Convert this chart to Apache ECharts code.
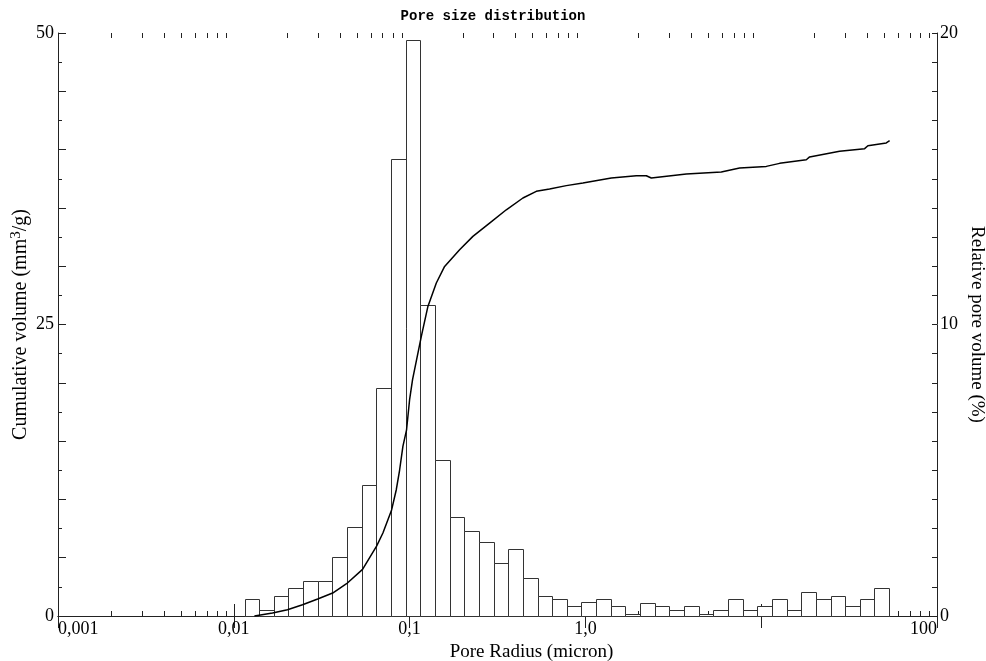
<!DOCTYPE html>
<html>
<head>
<meta charset="utf-8">
<script src="https://cdn.jsdelivr.net/npm/echarts@6/dist/echarts.min.js"></script>
<style>
html,body{margin:0;padding:0;background:#fff;}
#chart{width:986px;height:661px;}
</style>
</head>
<body>
<div id="chart"></div>
<script>
// ---- data ----
const titleText = 'Pore size distribution';
const xAxisName = 'Pore Radius (micron)';
const leftAxisName = ['Cumulative volume (mm', '3', '/g)'];
const rightAxisName = 'Relative pore volume (%)';

// x tick values and labels (log axis)
const xTickValues = [0.001, 0.01, 0.1, 1, 10, 100];
const xTickLabels = ['0,001', '0,01', '0,1', '1,0', '', '100'];
const leftTickLabels = [0, 25, 50];
const rightTickLabels = [0, 10, 20];
const minorDecades = [0.001, 0.01, 0.1, 1, 10];
const minorFactors = [2, 3, 4, 5, 6, 7, 8, 9];

// histogram: log-spaced bins, 12 per decade, starting at binFirstEdge (micron)
const binFirstEdge = 0.01151;
const binsPerDecade = 12;
const relVolume = [
  0.58, 0.22, 0.70, 0.96, 1.20, 1.20, 2.03, 3.05, 4.50, 7.81, 15.69, 19.77,
  10.68, 5.36, 3.40, 2.93, 2.55, 1.82, 2.31, 1.31, 0.70, 0.58, 0.34, 0.47,
  0.58, 0.34, 0.08, 0.46, 0.34, 0.19, 0.34, 0.08, 0.19, 0.58, 0.19, 0.34,
  0.58, 0.19, 0.81, 0.58, 0.70, 0.34, 0.58, 0.96
];

// cumulative curve
const curveRadius = [
  0.0131, 0.0166, 0.0202, 0.0246, 0.0300, 0.0365, 0.0438, 0.0540, 0.0649, 0.0705,
  0.0790, 0.0840, 0.0877, 0.0916, 0.0961, 0.1000, 0.1040, 0.1166, 0.1271, 0.1419,
  0.1582, 0.1925, 0.2291, 0.2851, 0.3549, 0.4411, 0.5256, 0.6256, 0.7788, 0.9678,
  1.404, 1.948, 2.220, 2.371, 3.749, 5.929, 7.538, 10.69, 12.73, 18.05,
  18.85, 27.92, 38.75, 40.45, 51.48, 53.76
];
const curveVolume = [
  0.0, 0.26, 0.54, 0.97, 1.46, 1.97, 2.77, 4.0, 5.99, 7.12,
  9.1, 10.83, 12.5, 14.55, 15.97, 18.55, 20.3, 23.98, 26.55, 28.56,
  29.98, 31.41, 32.56, 33.7, 34.84, 35.85, 36.42, 36.62, 36.91, 37.14,
  37.56, 37.76, 37.76, 37.56, 37.91, 38.08, 38.42, 38.56, 38.82, 39.13,
  39.37, 39.85, 40.08, 40.33, 40.57, 40.76
];

// ---- build ----
const barData = relVolume.map(function (v, k) {
  const lo = binFirstEdge * Math.pow(10, k / binsPerDecade);
  const hi = binFirstEdge * Math.pow(10, (k + 1) / binsPerDecade);
  return [lo, hi, v];
});
const curveData = curveRadius.map(function (r, i) { return [r, curveVolume[i]]; });
const minorTicks = [];
minorDecades.forEach(function (d) { minorFactors.forEach(function (f) { minorTicks.push([d * f]); }); });

const serif = 'Liberation Serif';
const ink = '#222';

const chart = echarts.init(document.getElementById('chart'), null, {renderer: 'canvas'});
chart.setOption({
  backgroundColor: '#fff',
  animation: false,
  title: {
    text: titleText, left: 'center', top: 4,
    textStyle: {fontFamily: 'Liberation Mono', fontWeight: 'bold', fontSize: 14, color: '#000'}
  },
  grid: {left: 58, right: 49, top: 33, bottom: 45, containLabel: false, outerBoundsMode: 'none'},
  xAxis: [{
    type: 'log', logBase: 10, min: 0.001, max: 100, position: 'bottom',
    name: xAxisName, nameLocation: 'middle', nameGap: 23,
    nameTextStyle: {fontFamily: serif, fontSize: 19, color: '#000', padding: [0, 0, 0, 68]},
    axisLine: {show: true, lineStyle: {color: ink, width: 1}},
    axisTick: {show: true, inside: true, length: 12, lineStyle: {color: ink}},
    minorTick: {show: false},
    splitLine: {show: false},
    axisLabel: {
      show: true, margin: 4, fontFamily: serif, fontSize: 18, color: '#000',
      alignMinLabel: 'left', alignMaxLabel: 'right',
      formatter: function (v) {
        for (let i = 0; i < xTickValues.length; i++) {
          if (Math.abs(Math.log10(v) - Math.log10(xTickValues[i])) < 1e-6) return xTickLabels[i];
        }
        return '';
      }
    }
  }, {
    type: 'log', logBase: 10, min: 0.001, max: 100, position: 'top',
    axisLine: {show: true, lineStyle: {color: ink, width: 1}},
    axisTick: {show: true, inside: true, length: 12, lineStyle: {color: ink}},
    axisLabel: {show: false},
    splitLine: {show: false}
  }],
  yAxis: [{
    type: 'value', min: 0, max: 50, interval: 5, position: 'left',
    name: '{t|' + leftAxisName[0] + '}{s|' + leftAxisName[1] + '}{t|' + leftAxisName[2] + '}',
    nameLocation: 'middle', nameGap: 27, nameRotate: 90, nameMoveOverlap: false,
    nameTextStyle: {
      fontFamily: serif, fontSize: 20, color: '#000',
      rich: {
        t: {fontFamily: serif, fontSize: 20, color: '#000', lineHeight: 22, verticalAlign: 'bottom'},
        s: {fontFamily: serif, fontSize: 15, color: '#000', lineHeight: 22, verticalAlign: 'top'}
      }
    },
    axisLine: {show: true, lineStyle: {color: ink, width: 1}},
    axisTick: {show: true, inside: true, length: 8, lineStyle: {color: ink}},
    minorTick: {show: true, splitNumber: 2, length: 4, lineStyle: {color: ink}},
    splitLine: {show: false}, minorSplitLine: {show: false},
    axisLabel: {
      margin: 4, fontFamily: serif, fontSize: 18, color: '#000',
      formatter: function (v) { return leftTickLabels.indexOf(v) >= 0 ? String(v) : ''; }
    }
  }, {
    type: 'value', min: 0, max: 20, interval: 1, position: 'right',
    name: rightAxisName, nameLocation: 'middle', nameGap: 30, nameRotate: -90, nameMoveOverlap: false,
    nameTextStyle: {fontFamily: serif, fontSize: 19, color: '#000', lineHeight: 19},
    axisLine: {show: true, lineStyle: {color: ink, width: 1}},
    axisTick: {show: true, inside: true, length: 5, lineStyle: {color: ink}},
    splitLine: {show: false},
    axisLabel: {
      margin: 3, fontFamily: serif, fontSize: 18, color: '#000',
      formatter: function (v) { return rightTickLabels.indexOf(v) >= 0 ? String(v) : ''; }
    }
  }],
  series: [{
    type: 'custom', name: 'Relative pore volume', xAxisIndex: 0, yAxisIndex: 1, z: 2,
    data: barData,
    encode: {x: [0, 1], y: 2},
    renderItem: function (params, api) {
      const p0 = api.coord([api.value(0), api.value(2)]);
      const p1 = api.coord([api.value(1), 0]);
      const x0 = Math.round(p0[0]) + 0.5, x1 = Math.round(p1[0]) + 0.5;
      const y0 = Math.round(p0[1]) + 0.5, y1 = Math.round(p1[1]) + 0.5;
      return {type: 'rect', shape: {x: x0, y: y0, width: x1 - x0, height: y1 - y0},
        style: {fill: '#fff', stroke: '#333', lineWidth: 1}};
    }
  }, {
    type: 'custom', name: 'minor ticks', xAxisIndex: 0, yAxisIndex: 0, z: 1, silent: true,
    data: minorTicks, encode: {x: 0},
    renderItem: function (params, api) {
      const b = api.coord([api.value(0), 0]);
      const t = api.coord([api.value(0), 50]);
      const x = Math.round(b[0]) + 0.5;
      return {type: 'group', children: [
        {type: 'line', shape: {x1: x, y1: b[1], x2: x, y2: b[1] - 5}, style: {stroke: ink, lineWidth: 1}},
        {type: 'line', shape: {x1: x, y1: t[1], x2: x, y2: t[1] + 5}, style: {stroke: ink, lineWidth: 1}}
      ]};
    }
  }, {
    type: 'line', name: 'Cumulative volume', xAxisIndex: 0, yAxisIndex: 0, z: 5,
    data: curveData, showSymbol: false, symbol: 'none', smooth: false,
    lineStyle: {color: '#000', width: 1.5}
  }]
});
</script>
</body>
</html>
